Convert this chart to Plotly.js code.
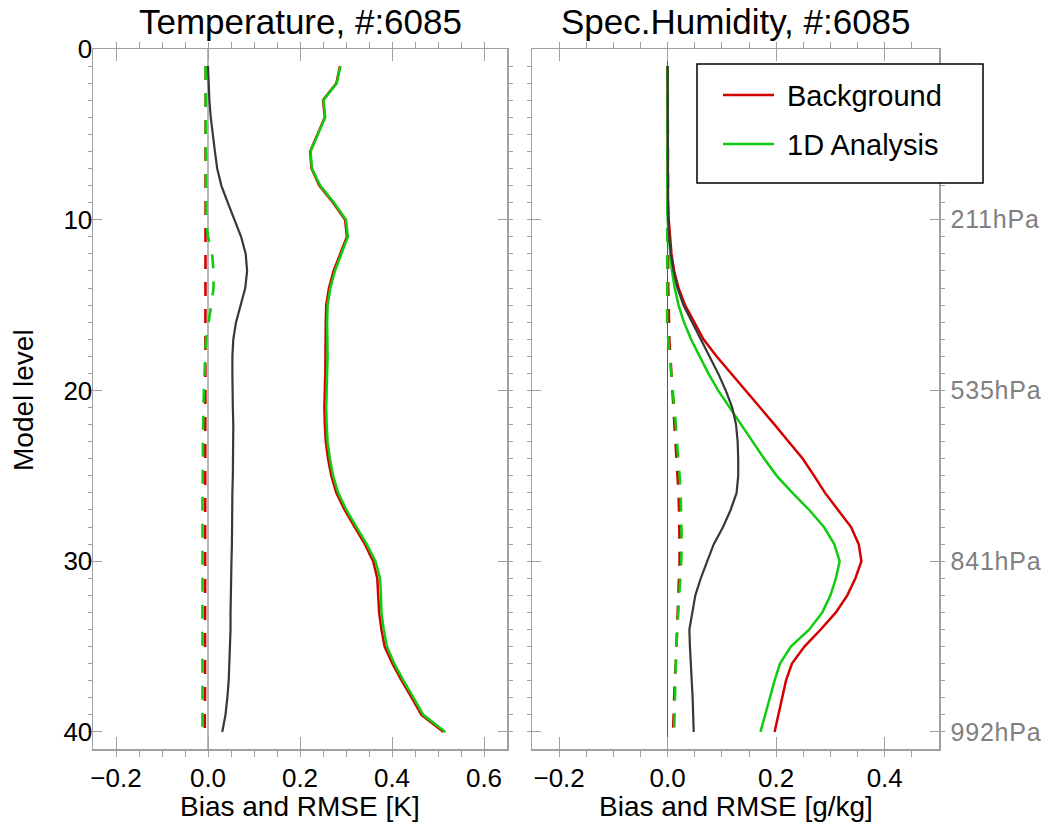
<!DOCTYPE html>
<html>
<head>
<meta charset="utf-8">
<script src="https://cdn.plot.ly/plotly-3.0.1.min.js"></script>
<style>
body{margin:0;background:#fff;}
.y2tick text{letter-spacing:0.8px;}
</style>
</head>
<body>
<div id="chart" style="width:1052px;height:822px;"></div>
<script>
// Model levels
const levels = [1,2,3,4,5,6,7,8,9,10,11,12,13,14,15,16,17,18,19,20,21,22,23,24,25,26,27,28,29,30,31,32,33,34,35,36,37,38,39,40];

// Temperature panel [K]
const tempRmseBackground = [0.287,0.279,0.250,0.254,0.238,0.222,0.225,0.242,0.272,0.298,0.302,0.287,0.273,0.263,0.257,0.256,0.256,0.256,0.255,0.254,0.253,0.254,0.256,0.261,0.268,0.279,0.297,0.319,0.341,0.359,0.368,0.370,0.372,0.377,0.384,0.401,0.421,0.443,0.464,0.512];
const tempRmseAnalysis = [0.288,0.280,0.251,0.255,0.239,0.223,0.226,0.244,0.274,0.300,0.304,0.290,0.276,0.266,0.260,0.259,0.260,0.260,0.259,0.258,0.257,0.258,0.260,0.265,0.272,0.283,0.301,0.323,0.345,0.364,0.374,0.376,0.377,0.382,0.389,0.405,0.425,0.447,0.468,0.516];
const tempBiasBackground = [-0.005,-0.005,-0.005,-0.005,-0.005,-0.005,-0.005,-0.005,-0.005,-0.005,-0.006,-0.006,-0.006,-0.006,-0.006,-0.006,-0.006,-0.006,-0.006,-0.006,-0.0065,-0.0065,-0.0065,-0.0065,-0.0065,-0.0065,-0.0065,-0.0065,-0.0065,-0.0065,-0.0065,-0.0065,-0.0065,-0.0065,-0.0065,-0.0065,-0.0065,-0.0065,-0.007,-0.007];
const tempBiasAnalysis = [-0.005,-0.005,-0.005,-0.005,-0.005,-0.005,-0.005,-0.005,-0.005,-0.004,0.000,0.009,0.012,0.012,0.007,0.001,-0.004,-0.006,-0.008,-0.009,-0.010,-0.011,-0.011,-0.011,-0.012,-0.012,-0.012,-0.012,-0.012,-0.012,-0.012,-0.012,-0.012,-0.012,-0.012,-0.012,-0.012,-0.012,-0.012,-0.012];
const tempDifference = [0.000,0.001,0.003,0.006,0.010,0.015,0.020,0.029,0.043,0.058,0.072,0.082,0.085,0.081,0.071,0.061,0.055,0.053,0.053,0.053,0.054,0.055,0.055,0.054,0.054,0.053,0.053,0.052,0.052,0.051,0.050,0.050,0.049,0.049,0.048,0.047,0.045,0.042,0.038,0.031];

// Specific humidity panel [g/kg]
const humRmseBackground = [0,0,0,0,0,0,0,0,0,0.002,0.004,0.007,0.012,0.020,0.032,0.049,0.066,0.090,0.117,0.143,0.170,0.197,0.223,0.249,0.270,0.290,0.314,0.338,0.352,0.357,0.346,0.331,0.310,0.282,0.252,0.229,0.218,0.211,0.203,0.197];
const humRmseAnalysis = [0,0,0,0,0,0,0,0,0,0.000,0.002,0.005,0.008,0.013,0.020,0.030,0.043,0.059,0.075,0.093,0.114,0.135,0.156,0.178,0.201,0.230,0.261,0.288,0.307,0.317,0.310,0.300,0.285,0.261,0.227,0.207,0.197,0.188,0.179,0.171];
const humBiasBackground = [0,0,0,0,0,0,0,0,0,0,0,0,0.001,0.001,0.002,0.002,0.003,0.005,0.007,0.009,0.011,0.013,0.015,0.017,0.019,0.020,0.021,0.022,0.022,0.022,0.021,0.020,0.019,0.018,0.016,0.015,0.013,0.012,0.011,0.010];
const humBiasAnalysis = [0,0,0,0,0,0,0,0,-0.001,-0.001,-0.001,-0.001,-0.001,-0.001,-0.001,-0.001,0.001,0.004,0.006,0.009,0.012,0.015,0.017,0.020,0.022,0.024,0.025,0.026,0.026,0.025,0.023,0.021,0.019,0.018,0.016,0.015,0.014,0.013,0.012,0.012];
const humDifference = [0,0,0,0,0,0,0,0,0,0.001,0.003,0.006,0.011,0.018,0.029,0.045,0.061,0.077,0.093,0.107,0.119,0.126,0.129,0.130,0.130,0.127,0.116,0.102,0.085,0.073,0.061,0.051,0.045,0.040,0.041,0.043,0.045,0.046,0.047,0.048];

// Labels
const seriesNames = ['Background', '1D Analysis'];
const panelTitles = ['Temperature, #:6085', 'Spec.Humidity, #:6085'];
const xAxisTitles = ['Bias and RMSE [K]', 'Bias and RMSE [g/kg]'];
const yAxisTitle = 'Model level';
const levelTickVals = [0, 10, 20, 30, 40];
const pressureTickVals = [10, 20, 30, 40];
const pressureTickText = ['211hPa', '535hPa', '841hPa', '992hPa'];

const RED = '#d40000', GREEN = '#10cc10', DARK = '#383838';
const FONT = 'Liberation Sans, Arial, Helvetica, sans-serif';
const W = 1052, H = 822;
const px = v => v / W, py = v => (H - v) / H;

function panelTraces(xa, ya, rb, ra, bb, ba, diff) {
  return [
    {x: rb, y: levels, xaxis: xa, yaxis: ya, mode: 'lines', name: seriesNames[0], line: {color: RED, width: 2.5}},
    {x: ra, y: levels, xaxis: xa, yaxis: ya, mode: 'lines', name: seriesNames[1], line: {color: GREEN, width: 2.5}},
    {x: bb, y: levels, xaxis: xa, yaxis: ya, mode: 'lines', name: seriesNames[0] + ' bias', line: {color: RED, width: 2.6, dash: '14px,13px'}},
    {x: ba, y: levels, xaxis: xa, yaxis: ya, mode: 'lines', name: seriesNames[1] + ' bias', line: {color: GREEN, width: 2.6, dash: '14px,13px'}},
    {x: diff, y: levels, xaxis: xa, yaxis: ya, mode: 'lines', name: 'difference', line: {color: DARK, width: 2.2}}
  ];
}

const data = [].concat(
  panelTraces('x', 'y', tempRmseBackground, tempRmseAnalysis, tempBiasBackground, tempBiasAnalysis, tempDifference),
  panelTraces('x2', 'y2', humRmseBackground, humRmseAnalysis, humBiasBackground, humBiasAnalysis, humDifference)
);
data.forEach(t => { t.showlegend = false; t.hoverinfo = 'x+y'; });

const frameColor = '#a0a0a0';
const tickFont = {family: FONT, size: 26, color: '#000'};
const yDomain = [py(749), py(49)];
const xDom1 = [px(93), px(507)];
const xDom2 = [px(532), px(939)];

function xAxis(domain, range, anchor, zcolor, zwidth) {
  return {
    domain: domain, range: range, anchor: anchor, dtick: 0.2, tick0: 0, tickformat: '.1f',
    ticks: 'inside', ticklen: 12, tickwidth: 1, tickcolor: frameColor,
    minor: {dtick: 0.05, tick0: 0, ticklen: 6, tickwidth: 1, tickcolor: frameColor, showgrid: false},
    showline: true, linecolor: frameColor, linewidth: 1.5, mirror: 'ticks',
    zeroline: true, zerolinecolor: zcolor, zerolinewidth: zwidth, showgrid: false,
    tickfont: tickFont, ticklabelstandoff: 5, fixedrange: true
  };
}
function yAxis(anchor, extra) {
  return Object.assign({
    domain: yDomain, range: [41, 0], anchor: anchor,
    ticks: 'inside', ticklen: 9, tickwidth: 1, tickcolor: frameColor,
    minor: {dtick: 1, tick0: 0, ticklen: 4, tickwidth: 1, tickcolor: frameColor, showgrid: false},
    showline: true, linecolor: frameColor, linewidth: 1.5, mirror: 'ticks',
    zeroline: false, showgrid: false, tickfont: tickFont, fixedrange: true
  }, extra);
}

const legendTop = 64, legendBottom = 183, legendLeft = 697, legendRight = 983;
const legendRows = [95, 144];
const legendColors = [RED, GREEN];

const shapes = [
  {type: 'rect', xref: 'paper', yref: 'paper', x0: px(legendLeft), x1: px(legendRight), y0: py(legendBottom), y1: py(legendTop),
   line: {color: '#000', width: 1.5}, fillcolor: '#fff', layer: 'above'}
];
const annotations = [];
legendRows.forEach((yy, i) => {
  shapes.push({type: 'line', xref: 'paper', yref: 'paper', x0: px(723), x1: px(774), y0: py(yy), y1: py(yy),
    line: {color: legendColors[i], width: 2.5}, layer: 'above'});
  annotations.push({xref: 'paper', yref: 'paper', x: px(785), y: py(yy + 1), xanchor: 'left', yanchor: 'middle',
    text: seriesNames[i], showarrow: false, font: {family: FONT, size: 29, color: '#000'}});
});

[xDom1, xDom2].forEach((d, i) => {
  annotations.push({xref: 'paper', yref: 'paper', x: (d[0] + d[1]) / 2, y: py(22), xanchor: 'center', yanchor: 'middle',
    text: panelTitles[i], showarrow: false, font: {family: FONT, size: 35, color: '#000'}});
  annotations.push({xref: 'paper', yref: 'paper', x: (d[0] + d[1]) / 2, y: py(806), xanchor: 'center', yanchor: 'middle',
    text: xAxisTitles[i], showarrow: false, font: {family: FONT, size: 28, color: '#000'}});
});
annotations.push({xref: 'paper', yref: 'paper', x: px(24), y: py(400), xanchor: 'center', yanchor: 'middle', textangle: -90,
  text: yAxisTitle, showarrow: false, font: {family: FONT, size: 28, color: '#000'}});

const layout = {
  width: W, height: H, margin: {l: 0, r: 0, t: 0, b: 0},
  paper_bgcolor: '#fff', plot_bgcolor: '#fff', showlegend: false,
  xaxis: xAxis(xDom1, [-0.25, 0.65], 'y', '#b8b8b8', 2),
  yaxis: yAxis('x', {tickvals: levelTickVals, ticklabelstandoff: -6}),
  xaxis2: xAxis(xDom2, [-0.25, 0.5], 'y2', '#555555', 1),
  yaxis2: yAxis('x2', {side: 'right', tickvals: pressureTickVals, ticktext: pressureTickText,
    tickfont: {family: FONT, size: 25, color: '#808080'}, ticklabelstandoff: 5}),
  shapes: shapes, annotations: annotations
};

Plotly.newPlot('chart', data, layout, {displayModeBar: false, staticPlot: true});
</script>
</body>
</html>
